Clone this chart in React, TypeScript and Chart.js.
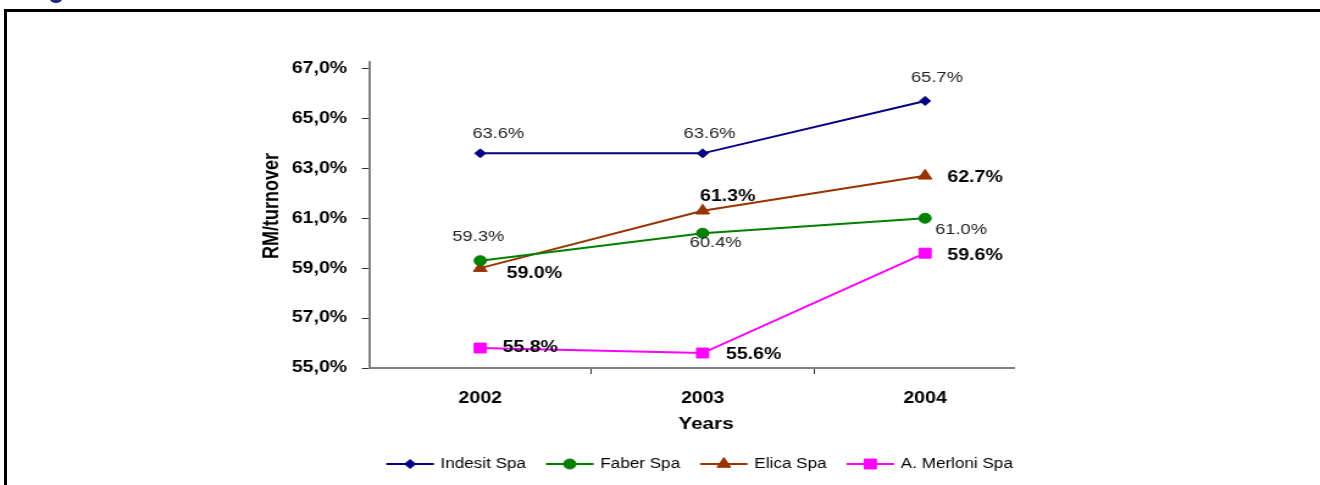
import React, { useEffect, useRef } from 'react';
import { Chart, registerables } from 'chart.js';
import { drawPoint } from 'chart.js/helpers';

Chart.register(...registerables);

// ---- data ----
const years = [2002, 2003, 2004];
const seriesNames = ['Indesit Spa', 'Faber Spa', 'Elica Spa', 'A. Merloni Spa'];
const indesit = [63.6, 63.6, 65.7];
const faber = [59.3, 60.4, 61.0];
const elica = [59.0, 61.3, 62.7];
const merloni = [55.8, 55.6, 59.6];
const yTicks = [55, 57, 59, 61, 63, 65, 67];
const xTickPositions = [2002, 2002.5, 2003, 2003.5, 2004];
const xTitle = 'Years';
const yTitle = 'RM/turnover';

// ---- styles ----
const FONT = '"Liberation Sans", Arial, sans-serif';
const STRETCH = 1.22;
const CW = Math.round(1320 / STRETCH);
const CH = 485;
const colors = ['#000080', '#008000', '#993300', '#FF00FF'];
const pointStyles = ['rectRot', 'circle', 'triangle', 'rect'];
const pointRadii = [4.5, 5, 6.5, 7];
const labelBold = [false, false, true, true];
// label offsets from point (canvas px)
const labelOffsets = [
  [[14.8, -19.5], [5.7, -19.5], [9.8, -23.5]],
  [[-1.6, -23.5], [10.7, 9.5], [29.5, 12]],
  [[44.3, 5.5], [20.5, -14.5], [41, 1.5]],
  [[41, 0], [41.8, 2], [41, 2]],
];

const seriesData = [indesit, faber, elica, merloni];

const labelPlugin = {
  id: 'valueLabels',
  afterDatasetsDraw(chart: any) {
    const ctx = chart.ctx;
    ctx.save();
    ctx.textAlign = 'center';
    ctx.textBaseline = 'middle';
    chart.data.datasets.forEach((ds: any, di: number) => {
      const meta = chart.getDatasetMeta(di);
      ctx.font = `${labelBold[di] ? 'bold 16px' : '15px'} ${FONT}`;
      ctx.fillStyle = labelBold[di] ? '#000' : '#222';
      meta.data.forEach((pt: any, i: number) => {
        const v = seriesData[di][i];
        const [dx, dy] = labelOffsets[di][i];
        ctx.fillText(v.toFixed(1) + '%', pt.x + dx, pt.y + dy);
      });
    });
    ctx.restore();
  },
};

const titlePlugin = {
  id: 'axisTitles',
  afterDraw(chart: any) {
    const ctx = chart.ctx;
    ctx.save();
    ctx.fillStyle = '#000';
    ctx.textAlign = 'center';
    ctx.textBaseline = 'middle';
    ctx.font = `bold 17px ${FONT}`;
    ctx.fillText(xTitle, 706 / STRETCH, 424);
    ctx.translate(272 / STRETCH, 206);
    ctx.rotate(-Math.PI / 2);
    ctx.font = `bold 18px ${FONT}`;
    ctx.fillText(yTitle, 0, 0);
    ctx.restore();
  },
};

const legendPlugin = {
  id: 'customLegend',
  afterDraw(chart: any) {
    const ctx = chart.ctx;
    ctx.save();
    ctx.font = `14px ${FONT}`;
    const lineLen = 39;
    const textGap = 5.5;
    const itemGap = 16.4;
    const widths = seriesNames.map((n) => ctx.measureText(n).width);
    const total = widths.reduce((a, w) => a + lineLen + textGap + w, 0) + itemGap * (seriesNames.length - 1);
    let x = 573.4 - total / 2;
    const y = 464;
    seriesNames.forEach((name, i) => {
      ctx.strokeStyle = colors[i];
      ctx.fillStyle = colors[i];
      ctx.lineWidth = 2;
      ctx.beginPath();
      ctx.moveTo(x, y);
      ctx.lineTo(x + lineLen, y);
      ctx.stroke();
      ctx.lineWidth = 1;
      drawPoint(ctx, { pointStyle: pointStyles[i], radius: pointRadii[i], rotation: 0, borderWidth: 1 } as any, x + lineLen / 2, y);
      ctx.fillStyle = '#000';
      ctx.textAlign = 'left';
      ctx.textBaseline = 'middle';
      ctx.fillText(name, x + lineLen + textGap, y);
      x += lineLen + textGap + widths[i] + itemGap;
    });
    ctx.restore();
  },
};

export default function App() {
  const ref = useRef<HTMLCanvasElement | null>(null);
  useEffect(() => {
    if (!ref.current) return;
    Chart.defaults.font.family = FONT;
    const chart = new Chart(ref.current, {
      type: 'line',
      data: {
        datasets: seriesNames.map((name, i) => ({
          label: name,
          data: years.map((x, j) => ({ x, y: seriesData[i][j] })),
          borderColor: colors[i],
          backgroundColor: colors[i],
          borderWidth: 2,
          pointStyle: pointStyles[i] as any,
          pointRadius: pointRadii[i],
          pointBackgroundColor: colors[i],
          pointBorderColor: colors[i],
          pointBorderWidth: 1,
          tension: 0,
          fill: false,
        })),
      },
      options: {
        animation: false,
        responsive: false,
        devicePixelRatio: 1,
        layout: { padding: { left: 214, right: CW - 1014 / STRETCH, top: 62, bottom: 51 } },
        plugins: { legend: { display: false }, tooltip: { enabled: false } },
        scales: {
          x: {
            type: 'linear',
            min: 2001.5,
            max: 2004.4,
            afterBuildTicks: (s: any) => {
              s.ticks = xTickPositions.map((v) => ({ value: v }));
            },
            afterFit: (s: any) => {
              s.height = 66;
            },
            ticks: {
              autoSkip: false,
              maxRotation: 0,
              padding: 15,
              color: '#000',
              font: { size: 16, weight: 'bold' },
              callback: (v: any) => (Number.isInteger(v) ? String(v) : ''),
            },
            grid: {
              drawOnChartArea: false,
              drawTicks: true,
              tickLength: 6,
              tickWidth: 1,
              tickColor: (c: any) => (c.tick && !Number.isInteger(c.tick.value) ? '#333' : 'rgba(0,0,0,0)'),
            },
            border: { display: true, color: '#808080', width: 2 },
            title: { display: false },
          },
          y: {
            type: 'linear',
            min: 55,
            max: 67.26,
            afterBuildTicks: (s: any) => {
              s.ticks = yTicks.map((v) => ({ value: v }));
            },
            afterFit: (s: any) => {
              s.width = 302.5 - 214;
            },
            ticks: {
              padding: 12,
              color: '#000',
              font: { size: 16, weight: 'bold' },
              callback: (v: any) => Number(v).toFixed(1).replace('.', ',') + '%',
            },
            grid: { drawOnChartArea: false, drawTicks: true, tickLength: 6, tickWidth: 1, tickColor: '#333' },
            border: { display: true, color: '#808080', width: 2 },
            title: { display: false },
          },
        },
      },
      plugins: [labelPlugin, titlePlugin, legendPlugin],
    } as any);
    return () => chart.destroy();
  }, []);

  return (
    <div style={{ position: 'fixed', left: 0, top: 0, width: 1320, height: 485, overflow: 'hidden', background: '#fff' }}>
      <div style={{ position: 'absolute', left: 50, top: -5, width: 12, height: 8, borderRadius: '50%', background: '#1c2a80' }} />
      <div
        style={{
          position: 'absolute',
          left: 4,
          top: 9,
          width: 1400,
          height: 600,
          borderTop: '3px solid #000',
          borderLeft: '3px solid #000',
        }}
      />
      <canvas
        ref={ref}
        width={CW}
        height={CH}
        style={{ position: 'absolute', left: 0, top: 0, transform: `scaleX(${STRETCH})`, transformOrigin: '0 0' }}
      />
    </div>
  );
}
